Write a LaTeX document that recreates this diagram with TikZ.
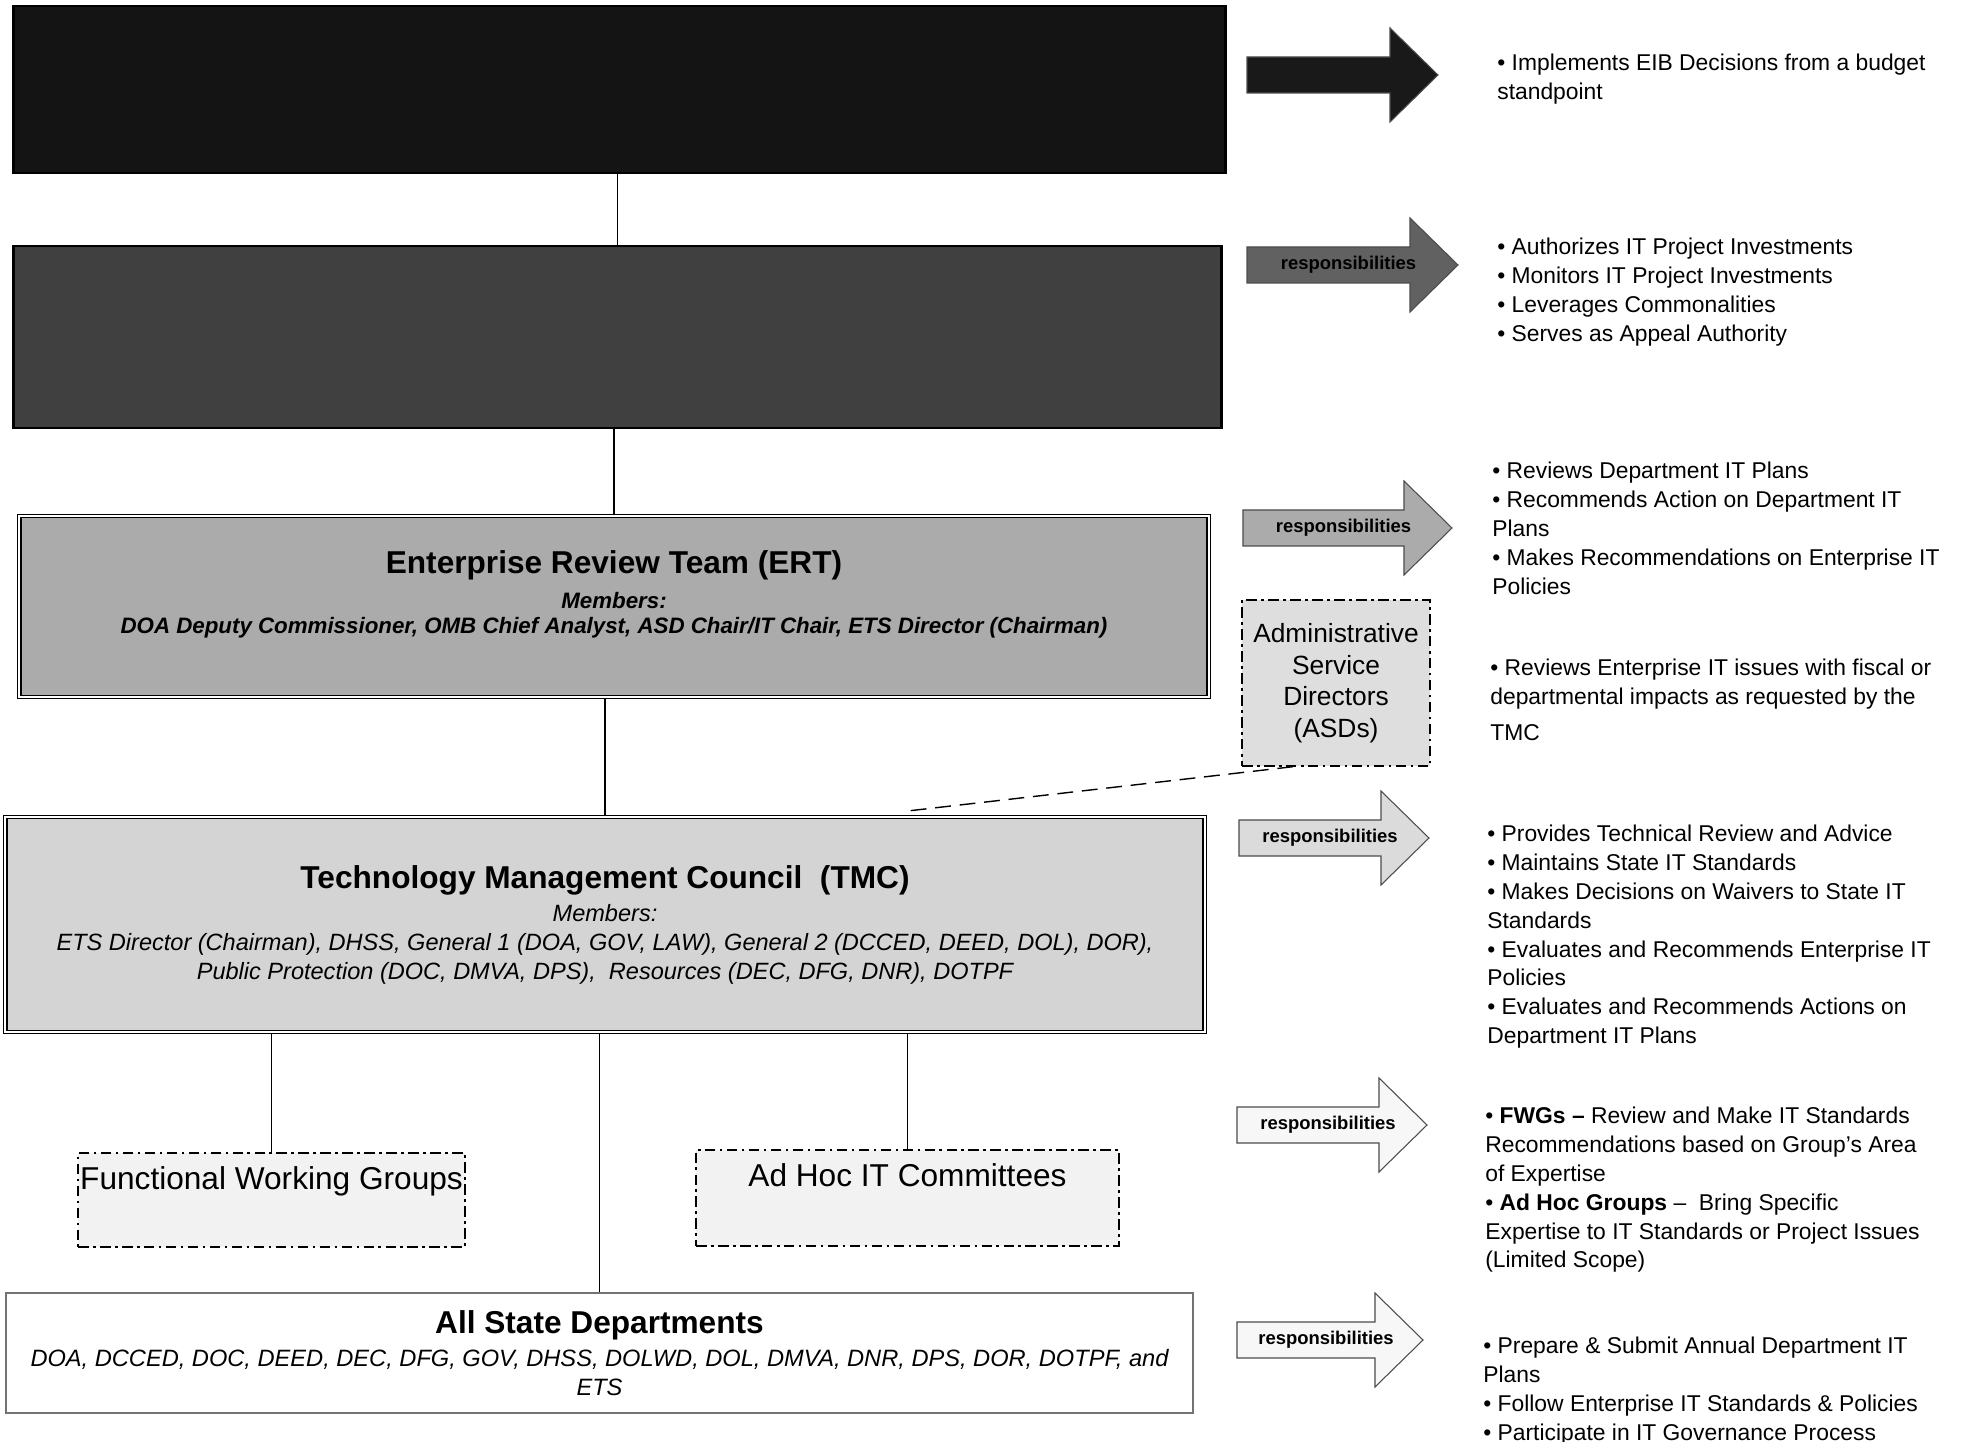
\documentclass[tikz,border=0pt]{standalone}
\usepackage{fontspec}
\setmainfont{Liberation Sans}

% responsibility arrow: name, left x, centre y, shaft length, fill, label
\newcommand{\resparrow}[6]{%
  \draw[resparrowline,fill=#5] (#2,#3-18) -- ++(#4,0) -- ++(0,-29) -- ++(48,47)
    -- ++(-48,47) -- ++(0,-29) -- ++(-#4,0) -- cycle;
  \node[resplabel] (#1) at (#2+#4/2+20,#3) {#6};
}

\begin{document}
\begin{tikzpicture}[x=0.02cm,y=-0.02cm,
  board/.style={draw=black,line width=1.6pt,inner sep=0pt},
  council/.style={draw=black,line width=0.7pt,double=white,double distance=1.4pt,align=center,inner sep=0pt},
  group/.style={draw=black,line width=0.8pt,dash pattern=on 6pt off 2.5pt on 1.5pt off 2.5pt,
    fill=black!5,inner xsep=0pt,inner ysep=0pt,font=\fontsize{18}{21}\selectfont},
  resp/.style={anchor=north west,align=left,inner sep=0pt,font=\fontsize{13}{16.4}\selectfont},
  resparrowline/.style={draw=black!70,line width=0.6pt},
  resplabel/.style={inner sep=0pt,font=\fontsize{10.5}{12}\selectfont\bfseries},
  link/.style={draw=black,line width=0.8pt}]

  \useasboundingbox (0,0) rectangle (1969,1442);

  % Boards and councils
  \node[board,fill=black!92,minimum width=24.26cm,minimum height=3.34cm] (omb) at (619.5,89.5) {};
  \node[board,fill=black!75,minimum width=24.18cm,minimum height=3.64cm] (eib) at (617.5,337) {};
  \node[council,fill=black!33,minimum width=23.8cm,minimum height=3.62cm] (ert) at (614,606.5) {};
  \node[align=center,inner sep=0pt,font=\fontsize{12.7}{14.2}\selectfont\bfseries\itshape] (ertlabel)
    at ([yshift=0.25cm]ert.center)
    {{\fontsize{18}{20}\selectfont\upshape Enterprise Review Team (ERT)}\\[5.8pt]
     Members:\\
     DOA Deputy Commissioner, OMB Chief Analyst, ASD Chair/IT Chair, ETS Director (Chairman)};
  \node[council,fill=black!17,minimum width=24cm,minimum height=4.3cm,font=\fontsize{13.4}{16.5}\selectfont\itshape] (tmc) at (605,924.5)
    {{\fontsize{18}{20}\selectfont\bfseries\upshape Technology Management Council\ \ (TMC)}\\[2.3pt]
     Members:\\
     ETS Director (Chairman), DHSS, General 1 (DOA, GOV, LAW), General 2 (DCCED, DEED, DOL), DOR),\\
     Public Protection (DOC, DMVA, DPS),\ \ Resources (DEC, DFG, DNR), DOTPF};

  % Groups
  \node[group,minimum width=7.74cm,minimum height=1.88cm,text height=0.72cm,text depth=1.16cm] (fwg) at (271.5,1200)
    {Functional Working Groups};
  \node[group,minimum width=8.46cm,minimum height=1.92cm,text height=0.73cm,text depth=1.19cm] (adhoc) at (907.5,1198)
    {Ad Hoc IT Committees};
  \node[group,fill=black!13,align=center,minimum width=3.76cm,minimum height=3.32cm,font=\fontsize{15}{18}\selectfont] (asd) at (1336,683)
    {Administrative\\Service\\Directors\\(ASDs)};
  \node[draw=black!55,line width=0.8pt,fill=white,align=center,inner sep=0pt,minimum width=23.74cm,minimum height=2.4cm,
    font=\fontsize{13.45}{16.5}\selectfont\itshape] (alldept) at (599.5,1353)
    {{\fontsize{18}{20}\selectfont\bfseries\upshape All State Departments}\\[2.1pt]
     DOA, DCCED, DOC, DEED, DEC, DFG, GOV, DHSS, DOLWD, DOL, DMVA, DNR, DPS, DOR, DOTPF, and\\
     ETS};

  % Connectors
  \draw[link] (eib.north) -- (eib.north |- omb.south);
  \draw[link] (ert.north) -- (ert.north |- eib.south);
  \draw[link] (tmc.north) -- (tmc.north |- ert.south);
  \draw[link] (fwg.north) -- (fwg.north |- tmc.south);
  \draw[link] (adhoc.north) -- (adhoc.north |- tmc.south);
  \draw[link] (alldept.north) -- (alldept.north |- tmc.south);
  \draw[link,dash pattern=on 9pt off 5pt] ([xshift=-0.86cm]asd.south) -- ([xshift=5.98cm,yshift=0.1cm]tmc.north);

  % Arrows
  \resparrow{arr1}{1247}{75}{143}{black!90}{}
  \resparrow{arr2}{1247}{265}{163}{black!62}{responsibilities}
  \resparrow{arr3}{1243}{528}{161}{black!33}{responsibilities}
  \resparrow{arr4}{1239}{838}{142}{black!14}{responsibilities}
  \resparrow{arr5}{1237}{1125}{142}{black!3}{responsibilities}
  \resparrow{arr6}{1237}{1340}{138}{black!3}{responsibilities}

  % Responsibilities
  \node[resp] (txt1) at (1497,54) {• Implements EIB Decisions from a budget\\standpoint};
  \node[resp] (txt2) at (1497,238) {• Authorizes IT Project Investments\\• Monitors IT Project Investments\\
    • Leverages Commonalities\\• Serves as Appeal Authority};
  \node[resp] (txt3) at (1492,462) {• Reviews Department IT Plans\\• Recommends Action on Department IT\\Plans\\
    • Makes Recommendations on Enterprise IT\\Policies};
  \node[resp] (txt4) at (1490,659) {• Reviews Enterprise IT issues with fiscal or\\departmental impacts as requested by the\\[4pt]TMC};
  \node[resp] (txt5) at (1487,825) {• Provides Technical Review and Advice\\• Maintains State IT Standards\\
    • Makes Decisions on Waivers to State IT\\Standards\\• Evaluates and Recommends Enterprise IT\\Policies\\
    • Evaluates and Recommends Actions on\\Department IT Plans};
  \node[resp] (txt6) at (1485,1107) {• \textbf{FWGs –} Review and Make IT Standards\\Recommendations based on Group’s Area\\of Expertise\\
    • \textbf{Ad Hoc Groups} –\ \ Bring Specific\\Expertise to IT Standards or Project Issues\\(Limited Scope)};
  \node[resp] (txt7) at (1483,1337) {• Prepare \& Submit Annual Department IT\\Plans\\• Follow Enterprise IT Standards \& Policies\\
    • Participate in IT Governance Process};
\end{tikzpicture}
\end{document}
